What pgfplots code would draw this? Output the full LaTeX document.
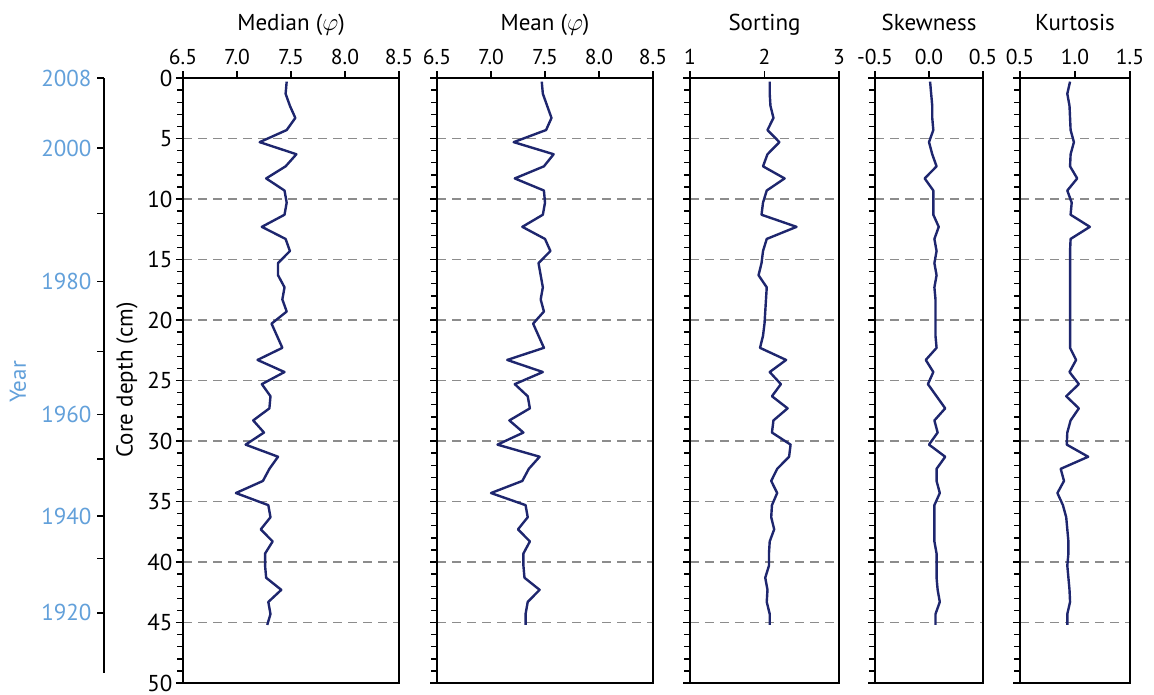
\documentclass[border=0pt]{standalone}
\usepackage{pgfplots}
\usepackage{pgfplotstable}
\pgfplotsset{compat=1.18}
\usepackage{fontspec}
\setmainfont{PT Sans}

\definecolor{navy}{RGB}{30,38,110}
\definecolor{yearblue}{RGB}{98,160,218}
\definecolor{dashgray}{RGB}{140,140,140}

% grain-size statistics down the core (depth in cm)
\pgfplotstableread{
d     med   mean  sort  skew   kurt
0.3   7.46  7.47  2.07  0.01   0.955
1.3   7.45  7.48  2.07  0.02   0.93
2.3   7.49  7.52  2.08  0.03   0.95
3.3   7.54  7.56  2.12  0.03   0.955
4.3   7.46  7.51  2.04  0.04   0.96
5.3   7.21  7.21  2.20  0.00   0.99
6.3   7.55  7.58  2.04  0.03   0.96
7.3   7.45  7.49  1.98  0.07   0.955
8.3   7.27  7.22  2.27  -0.04  1.02
9.3   7.44  7.49  2.03  0.04   0.93
10.3  7.46  7.50  1.98  0.04   0.97
11.3  7.44  7.48  1.96  0.04   0.96
12.3  7.23  7.29  2.43  0.09   1.135
13.3  7.45  7.50  2.03  0.05   0.96
14.3  7.49  7.55  1.98  0.07   0.955
15.3  7.38  7.44  1.96  0.05   0.955
16.3  7.38  7.46  1.92  0.07   0.955
17.3  7.44  7.48  2.03  0.05   0.955
18.3  7.42  7.46  2.02  0.06   0.955
19.3  7.46  7.49  2.01  0.06   0.955
20.3  7.32  7.39  2.00  0.06   0.955
21.3  7.37  7.44  1.98  0.06   0.955
22.3  7.42  7.49  1.94  0.07   0.955
23.3  7.19  7.15  2.29  -0.03  1.01
24.3  7.44  7.48  2.07  0.04   0.95
25.3  7.23  7.22  2.22  -0.01  1.035
26.3  7.31  7.34  2.10  0.07   0.92
27.3  7.30  7.36  2.31  0.15   1.035
28.3  7.15  7.17  2.12  0.05   0.96
29.3  7.25  7.30  2.10  0.08   0.93
30.3  7.08  7.06  2.35  0.00   0.925
31.3  7.38  7.45  2.33  0.15   1.12
32.3  7.30  7.35  2.17  0.07   0.87
33.3  7.24  7.29  2.09  0.07   0.90
34.3  6.99  7.00  2.17  0.10   0.84
35.3  7.29  7.32  2.10  0.05   0.89
36.3  7.31  7.34  2.09  0.05   0.92
37.3  7.22  7.25  2.13  0.05   0.93
38.3  7.33  7.36  2.07  0.05   0.94
39.3  7.26  7.30  2.06  0.07   0.94
40.3  7.26  7.30  2.06  0.07   0.93
41.3  7.27  7.31  2.01  0.07   0.94
42.3  7.41  7.45  2.04  0.08   0.95
43.3  7.29  7.34  2.03  0.10   0.955
44.3  7.31  7.32  2.07  0.06   0.93
45.2  7.28  7.32  2.07  0.06   0.93
}\coredata

\newcommand\bigfont{\fontsize{23}{27}\selectfont}
\newcommand\tickfont{\fontsize{21.5}{25}\selectfont}

\pgfplotsset{
  panel/.style={
    anchor=north west,
    y=12.1pt, y dir=reverse, ymin=0, ymax=50,
    ytick={0,5,...,50}, minor y tick num=4,
    ytick pos=left, xtick pos=upper, xticklabel pos=upper,
    tick align=outside,
    major tick length=7pt, minor tick length=6pt,
    every tick/.style={black, line width=1.4pt},
    axis line style={line width=1.9pt},
    ymajorgrids,
    major grid style={dashgray, line width=1.8pt, dash pattern=on 9pt off 6pt},
    yticklabels={},
    font=\bigfont,
    tick label style={font=\tickfont},
    yticklabel style={font=\bigfont},
    /pgf/number format/assume math mode=true,
    xticklabel style={anchor=base, yshift=7pt},
    title style={anchor=base, at={(0.5,1)}, yshift=42pt},
    clip=false,
  },
  series/.style={navy, line width=2.4pt, line join=round, no markers},
}

\begin{document}
\begin{tikzpicture}
\path[use as bounding box] (0,0) rectangle (1154pt,-695pt);

% year scale
\begin{axis}[
  at={(104pt,-78pt)}, anchor=north west,
  x=1pt, xmin=0, xmax=1,
  y=12.1pt, y dir=reverse, ymin=0, ymax=49.2,
  axis y line=left, axis x line=none,
  axis line style={-, line width=1.9pt},
  tick align=outside, major tick length=7pt,
  every tick/.style={black, line width=1.4pt},
  ytick={0,5.8,11.2,16.8,22.6,27.8,31.5,36.2,39.7,44.2},
  yticklabels={2008,2000,,1980,,1960,,1940,,1920},
  yticklabel style={yearblue, xshift=-2pt, font=\bigfont},
  font=\bigfont,
  /pgf/number format/assume math mode=true,
]
\end{axis}
\node[rotate=90, text=yearblue, font=\bigfont] at (18pt,-382pt) {Year};
\node[rotate=90, font=\bigfont] at (127pt,-380pt) {Core depth (cm)};

% median
\begin{axis}[panel, at={(183pt,-78pt)},
  x=108pt, xmin=6.5, xmax=8.5,
  xtick={6.5,7,7.5,8,8.5}, xticklabels={6.5,7.0,7.5,8.0,8.5},
  yticklabels={0,5,10,15,20,25,30,35,40,45,50},
  title={Median ($\varphi$)}]
\addplot[series] table[x=med, y=d] {\coredata};
\end{axis}

% mean
\begin{axis}[panel, at={(437pt,-78pt)},
  x=108pt, xmin=6.5, xmax=8.5,
  xtick={6.5,7,7.5,8,8.5}, xticklabels={6.5,7.0,7.5,8.0,8.5},
  title={Mean ($\varphi$)}]
\addplot[series] table[x=mean, y=d] {\coredata};
\end{axis}

% sorting
\begin{axis}[panel, at={(690pt,-78pt)},
  x=74.5pt, xmin=1, xmax=3,
  xtick={1,2,3}, xticklabels={1,2,3},
  title={Sorting}]
\addplot[series] table[x=sort, y=d] {\coredata};
\end{axis}

% skewness
\begin{axis}[panel, at={(875pt,-78pt)},
  x=108pt, xmin=-0.5, xmax=0.5,
  xtick={-0.5,0,0.5}, xticklabels={-0.5,0.0,0.5},
  title={Skewness}]
\addplot[series] table[x=skew, y=d] {\coredata};
\end{axis}

% kurtosis
\begin{axis}[panel, at={(1020pt,-78pt)},
  x=110pt, xmin=0.5, xmax=1.5,
  xtick={0.5,1,1.5}, xticklabels={0.5,1.0,1.5},
  title={Kurtosis}]
\addplot[series] table[x=kurt, y=d] {\coredata};
\end{axis}
\end{tikzpicture}
\end{document}
